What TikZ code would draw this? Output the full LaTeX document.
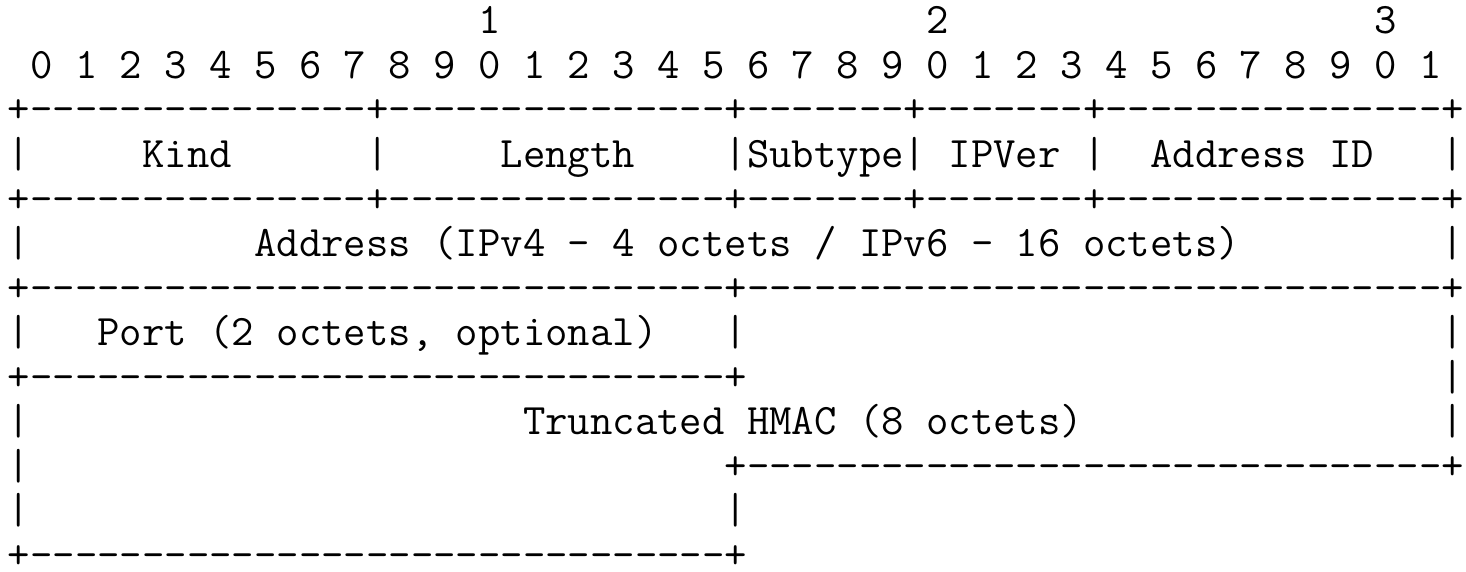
\documentclass[tikz,border=0pt]{standalone}
\usepackage{fontspec}
\usepackage{tikz}
\usetikzlibrary{positioning}

% one character cell of the option layout
\newcommand{\cellw}{22.4}
\newcommand{\cellh}{44.5}

\tikzset{
    asc/.style={font=\ttfamily\fontsize{43.5}{44.5}\selectfont, inner sep=0pt, outer sep=0pt, anchor=base west},
}

\begin{document}
\frenchspacing
\begin{tikzpicture}[x=1pt, y=-1pt]
        \useasboundingbox (0,0) rectangle (1466,572);

        % bit ruler, tens
        \foreach \c/\t in {21/1, 41/2, 61/3} {
            \node[asc] (ten\t) at ({7.8+\c*\cellw},34) {\t};
        }
        % bit ruler, units
        \foreach \b in {0,...,31} {
            \pgfmathtruncatemacro{\d}{mod(\b,10)}
            \node[asc] (bit\b) at ({7.8+(2*\b+1)*\cellw},{34+\cellh}) {\d};
        }

        % option fields, row by row
        \foreach \r/\c/\t in {
            3/0/{+---------------+---------------+-------+-------+---------------+},
            4/0/{|}, 4/6/{Kind}, 4/16/{|}, 4/22/{Length}, 4/32/{|Subtype|},
            4/42/{IPVer}, 4/48/{|}, 4/51/{Address ID}, 4/64/{|},
            5/0/{+---------------+---------------+-------+-------+---------------+},
            6/0/{|}, 6/11/{Address (IPv4 - 4 octets / IPv6 - 16 octets)}, 6/64/{|},
            7/0/{+-------------------------------+-------------------------------+},
            8/0/{|}, 8/4/{Port (2 octets, optional)}, 8/32/{|}, 8/64/{|},
            9/0/{+-------------------------------+}, 9/64/{|},
            10/0/{|}, 10/23/{Truncated HMAC (8 octets)}, 10/64/{|},
            11/0/{|}, 11/32/{+-------------------------------+},
            12/0/{|}, 12/32/{|},
            13/0/{+-------------------------------+}} {
            \node[asc] (r\r c\c) at ({7.8+\c*\cellw},{34+(\r-1)*\cellh}) {\t};
        }
    \end{tikzpicture}
\end{document}
